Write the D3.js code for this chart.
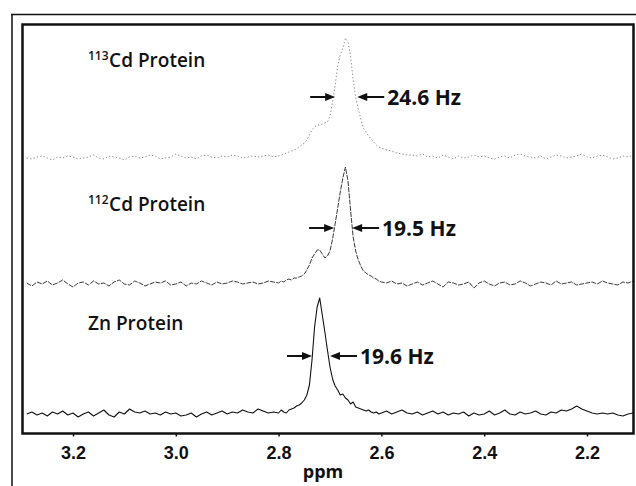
<!DOCTYPE html>
<html>
<head>
<meta charset="utf-8">
<script src="https://d3js.org/d3.v7.min.js"></script>
<style>
  body { margin: 0; background: #fff; }
  svg { display: block; font-family: "Open Sans", "Liberation Sans", sans-serif; }
  .frame { fill: none; stroke: #111; stroke-width: 2.5px; }
  .outer { stroke: #111; stroke-width: 1.5px; }
  .tick text { font-size: 18px; font-weight: 700; fill: #111; }
  .tick line { stroke: #111; stroke-width: 1.5px; }
</style>
</head>
<body>
<svg id="nmr" width="636" height="486"></svg>
<script>
// chemical shift grid (ppm), coarse - fine around the peaks - coarse
const ppmA = [3.29, 3.28, 3.27, 3.26, 3.25, 3.24, 3.23, 3.22, 3.21, 3.20,
              3.19, 3.18, 3.17, 3.16, 3.15, 3.14, 3.13, 3.12, 3.11, 3.10,
              3.09, 3.08, 3.07, 3.06, 3.05, 3.04, 3.03, 3.02, 3.01, 3.00,
              2.99, 2.98, 2.97, 2.96, 2.95, 2.94, 2.93, 2.92, 2.91, 2.90,
              2.89, 2.88, 2.87, 2.86, 2.85, 2.84, 2.83, 2.82, 2.81];
const ppmB = [2.800, 2.795, 2.790, 2.785, 2.780, 2.775, 2.770, 2.765, 2.760, 2.755,
              2.750, 2.745, 2.740, 2.735, 2.730, 2.725, 2.720, 2.715, 2.710, 2.705,
              2.700, 2.695, 2.690, 2.685, 2.680, 2.675, 2.670, 2.665, 2.660, 2.655,
              2.650, 2.645, 2.640, 2.635, 2.630, 2.625, 2.620, 2.615, 2.610, 2.605];
const ppmC = [2.60, 2.59, 2.58, 2.57, 2.56, 2.55, 2.54, 2.53, 2.52, 2.51,
              2.50, 2.49, 2.48, 2.47, 2.46, 2.45, 2.44, 2.43, 2.42, 2.41,
              2.40, 2.39, 2.38, 2.37, 2.36, 2.35, 2.34, 2.33, 2.32, 2.31,
              2.30, 2.29, 2.28, 2.27, 2.26, 2.25, 2.24, 2.23, 2.22, 2.21,
              2.20, 2.19, 2.18, 2.17, 2.16, 2.15, 2.14, 2.13, 2.12, 2.11];

// intensities (arbitrary units above baseline)
const cd113A = [0, -1, 1, 2, 0, -2, 1, 0, 2, 1, -1, 0, 1, 3, 0, -1, 2, 1, 0, -2,
                1, 2, 0, 1, 3, 2, -1, 0, 1, 4, 2, 0, 1, -1, 2, 3, 1, 0, 2, 1,
                3, 2, 0, 1, 2, 1, 2, 3, 1];
const cd113B = [2, 3, 4, 5, 6, 7, 8, 9, 11, 13, 15, 18, 23, 28, 31, 33, 33, 34, 35, 36,
                42, 56, 73, 92, 103, 110, 120, 116, 102, 78, 61, 49, 39, 30, 26, 22, 19, 16, 13, 11];
const cd113C = [10, 8, 7, 5, 4, 3, 3, 2, 4, 1, 2, 0, 3, 1, -1, 2, 0, 1, 3, 1,
                2, 0, -1, 1, 2, 0, 3, 4, 2, 1, 0, 2, -1, 1, 3, 2, 0, 1, 2, 4,
                1, 0, 2, 3, 1, -1, 0, 2, 1, 3];

const cd112A = [1, -2, 2, 0, 3, -1, 1, 4, 0, -3, 1, 2, -1, 3, 0, 1, -2, 2, 4, 0,
                -1, 3, 1, -2, 0, 2, 1, 3, -1, 0, 2, -2, 1, 0, 3, 1, -1, 2, 0, 1,
                3, 2, 0, 1, 2, 0, 1, 3, 2];
const cd112B = [1, 3, 2, 4, 5, 4, 6, 6, 7, 8, 10, 14, 19, 26, 30, 34, 34, 30, 26, 28,
                33, 45, 60, 76, 92, 106, 117, 103, 74, 47, 33, 24, 18, 13, 11, 9, 8, 6, 5, 3];
const cd112C = [2, 1, 3, 0, 1, -2, 0, 2, -1, 1, 3, 0, -3, 2, 1, -1, 0, 2, -4, 1,
                3, 0, -2, 1, 2, -1, 0, 3, 1, -2, 0, 2, 1, -1, 3, 0, 1, 2, -1, 0,
                1, 2, 0, 3, 1, 0, -1, 2, 1, 3];

const znA = [1, 3, 0, 2, -1, 3, 1, 4, 0, 2, -2, 1, 3, -1, 2, 5, 0, -2, 3, 1,
             6, 3, 2, 4, 1, 2, 0, 3, 1, 2, -1, 0, 2, -2, 1, 3, 0, 2, 4, 1,
             3, 2, 5, 3, 2, 6, 4, 2, 3];
const znB = [2, 5, 3, 2, 5, 6, 7, 9, 10, 12, 15, 20, 30, 55, 88, 108, 117, 100, 83, 65,
             48, 36, 29, 25, 20, 21, 17, 15, 11, 13, 8, 7, 6, 5, 4, 5, 3, 2, 3, 1];
const znC = [2, 4, 1, 3, 5, 2, 1, 3, 0, 2, 4, 1, 3, 0, 2, 1, 3, -1, 2, 0,
             1, 4, 0, 2, 5, 1, 0, 3, 1, 2, 4, 1, 0, 3, 2, 5, 4, 6, 9, 6,
             4, 2, 1, 2, 1, 2, 0, -1, 1, 2];

// labels and line-width annotations
const isotopes = ["113", "112", ""];
const names = ["Cd Protein", "Cd Protein", "Zn Protein"];
const widthLabels = ["24.6 Hz", "19.5 Hz", "19.6 Hz"];
const halfLeft = [2.690, 2.692, 2.735];
const halfRight = [2.647, 2.657, 2.700];
const halfHeight = [61, 56, 59];
const xTicks = [3.2, 3.0, 2.8, 2.6, 2.4, 2.2];

// layout
const svg = d3.select("#nmr");
const frame = { left: 22.5, top: 24.5, right: 633.5, bottom: 433.5 };
const baselines = [158, 284, 415];
const labelY = [67, 211, 330];
const styles = [
  { stroke: "#8a8a8a", width: 1, dash: "1.3,2.2" },
  { stroke: "#3a3a3a", width: 1, dash: "5,1.2" },
  { stroke: "#111", width: 1.1, dash: null }
];

const x = d3.scaleLinear().domain([3.2, 2.2]).range([73, 587]);

const ppm = ppmA.concat(ppmB, ppmC);
const traces = [
  cd113A.concat(cd113B, cd113C),
  cd112A.concat(cd112B, cd112C),
  znA.concat(znB, znC)
];

svg.append("clipPath").attr("id", "clip")
  .append("rect")
  .attr("x", frame.left).attr("y", frame.top)
  .attr("width", frame.right - frame.left).attr("height", frame.bottom - frame.top);

// outer border of the figure (top and left only)
svg.append("line").attr("class", "outer")
  .attr("x1", 11).attr("x2", 636).attr("y1", 14.5).attr("y2", 14.5);
svg.append("line").attr("class", "outer")
  .attr("x1", 12).attr("x2", 12).attr("y1", 14).attr("y2", 486);

const plot = svg.append("g").attr("clip-path", "url(#clip)");

traces.forEach((vals, i) => {
  const y = d3.scaleLinear().domain([0, 100]).range([baselines[i], baselines[i] - 100]);
  const line = d3.line()
    .x((d, j) => x(ppm[j]))
    .y(d => y(d));
  plot.append("path")
    .datum(vals)
    .attr("d", line)
    .attr("fill", "none")
    .attr("stroke", styles[i].stroke)
    .attr("stroke-width", styles[i].width)
    .attr("stroke-dasharray", styles[i].dash)
    .attr("stroke-linejoin", "round");

  // isotope label
  const t = svg.append("text")
    .attr("x", 88).attr("y", labelY[i])
    .style("font-size", "19px").style("font-weight", 600).style("fill", "#111");
  if (isotopes[i]) {
    t.append("tspan").text(isotopes[i])
      .style("font-size", "12px").attr("dy", -7);
    t.append("tspan").text(names[i]).attr("dy", 7).attr("dx", 0.5);
  } else {
    t.text(names[i]);
  }

  // half-height arrows
  const ay = y(halfHeight[i]);
  const xl = x(halfLeft[i]), xr = x(halfRight[i]);
  const g = svg.append("g").attr("fill", "#111").attr("stroke", "#111");
  g.append("line").attr("x1", xl - 25).attr("x2", xl - 6).attr("y1", ay).attr("y2", ay)
    .attr("stroke-width", 2);
  g.append("path").attr("stroke", "none")
    .attr("d", `M${xl},${ay} L${xl - 10},${ay - 4} L${xl - 10},${ay + 4} Z`);
  g.append("line").attr("x1", xr + 6).attr("x2", xr + 27).attr("y1", ay).attr("y2", ay)
    .attr("stroke-width", 2);
  g.append("path").attr("stroke", "none")
    .attr("d", `M${xr},${ay} L${xr + 10},${ay - 4} L${xr + 10},${ay + 4} Z`);

  svg.append("text")
    .attr("x", xr + 30).attr("y", ay + 7.5)
    .style("font-size", "21px").style("font-weight", 700).style("fill", "#111")
    .text(widthLabels[i]);
});

// x axis
const axis = d3.axisBottom(x)
  .tickValues(xTicks)
  .tickFormat(d3.format(".1f"))
  .tickSize(3)
  .tickPadding(10);
const ax = svg.append("g")
  .attr("transform", `translate(0,${frame.bottom})`)
  .call(axis);
ax.select(".domain").remove();

svg.append("text")
  .attr("x", 323).attr("y", 478)
  .attr("text-anchor", "middle")
  .style("font-size", "18px").style("font-weight", 700).style("fill", "#111")
  .text("ppm");

svg.append("rect").attr("class", "frame")
  .attr("x", frame.left).attr("y", frame.top)
  .attr("width", frame.right - frame.left).attr("height", frame.bottom - frame.top);
</script>
</body>
</html>
